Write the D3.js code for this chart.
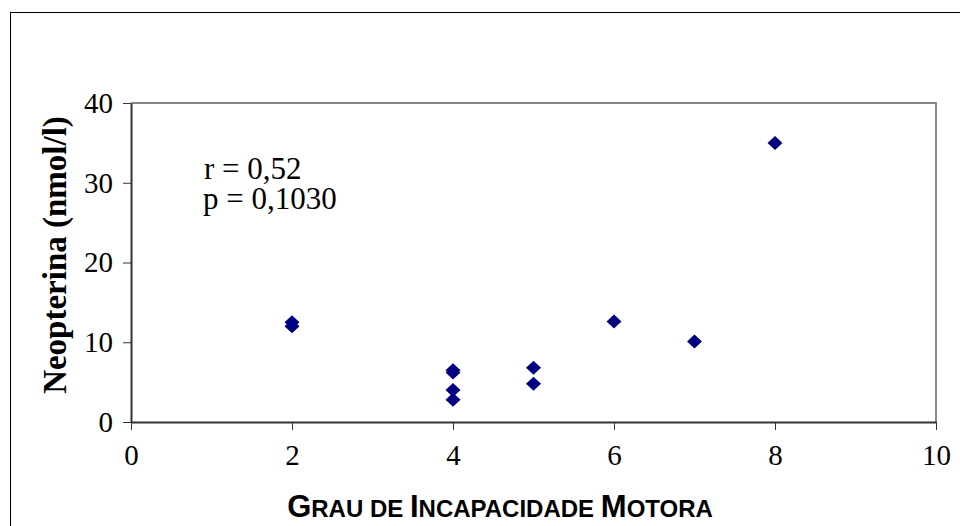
<!DOCTYPE html>
<meta charset="utf-8">
<head>
    <script src="https://d3js.org/d3.v7.min.js"></script>
</head>
<style>
    body { margin: 0; background: white; }
    .tick text { font-family: 'Liberation Serif', 'Times New Roman', serif; font-size: 29px; fill: #000; }
    .axis path, .axis line { stroke: #333; stroke-width: 2px; }
</style>
<body>
<div id="my_dataviz"></div>
<script>
    // data
    var grau = [2, 2, 4, 4, 4, 4, 5, 5, 6, 7, 8];
    var neopterina = [12.5, 12.0, 6.5, 6.2, 4.0, 2.8, 6.8, 4.8, 12.6, 10.1, 35.0];
    var xTicks = [0, 2, 4, 6, 8, 10];
    var yTicks = [0, 10, 20, 30, 40];
    var statLines = ["r = 0,52", "p = 0,1030"];

    var margin = {top: 103, right: 24, bottom: 104, left: 131},
        width = 960 - margin.left - margin.right,
        height = 526 - margin.top - margin.bottom;

    var root = d3.select("#my_dataviz")
        .append("svg")
        .attr("width", 960)
        .attr("height", 526);

    // outer chart frame
    root.append("rect")
        .attr("x", 10.5).attr("y", 12.5)
        .attr("width", 960).attr("height", 530)
        .attr("fill", "none").attr("stroke", "#000").attr("stroke-width", 1);

    var svg = root.append("g")
        .attr("transform", "translate(" + margin.left + "," + margin.top + ")");

    var x = d3.scaleLinear().domain([0, 10]).range([0, width]);
    var y = d3.scaleLinear().domain([0, 40]).range([height, 0]);

    // plot area border (top/right grey)
    svg.append("path")
        .attr("d", "M0,0H" + width + "V" + height)
        .attr("fill", "none").attr("stroke", "#888").attr("stroke-width", 2);

    svg.append("g")
        .attr("class", "axis")
        .attr("transform", "translate(0," + height + ")")
        .call(d3.axisBottom(x).tickValues(xTicks).tickSize(8).tickSizeOuter(0).tickPadding(14))
        .selectAll("line").style("stroke-width", 1);

    svg.append("g")
        .attr("class", "axis")
        .call(d3.axisLeft(y).tickValues(yTicks).tickSize(8).tickSizeOuter(0).tickPadding(10))
        .selectAll("line").style("stroke-width", 1);

    svg.selectAll(".tick text").attr("fill", "#000");

    // stats annotation
    var ann = svg.append("text")
        .attr("y", 76)
        .style("font-family", "'Liberation Serif', 'Times New Roman', serif")
        .style("font-size", "31px");
    ann.selectAll("tspan")
        .data(statLines)
        .enter()
        .append("tspan")
        .attr("x", function (d, i) { return i === 0 ? 73 : 72; })
        .attr("dy", function (d, i) { return i === 0 ? 0 : 30; })
        .text(function (d) { return d; });

    // diamond markers
    var diamond = "M0,-7L7.5,0L0,7L-7.5,0Z";
    svg.append("g")
        .selectAll("path.dot")
        .data(grau)
        .enter()
        .append("path")
        .attr("class", "dot")
        .attr("d", diamond)
        .attr("transform", function (d, i) { return "translate(" + x(d) + "," + y(neopterina[i]) + ")"; })
        .attr("fill", "#000080");

    // Y axis label
    svg.append("text")
        .attr("text-anchor", "middle")
        .attr("transform", "rotate(-90)")
        .attr("x", -152)
        .attr("y", -65)
        .style("font-family", "'Liberation Serif', 'Times New Roman', serif")
        .style("font-weight", "bold")
        .style("font-size", "33px")
        .text("Neopterina (nmol/l)");

    // X axis label, small caps
    var xl = svg.append("text")
        .attr("text-anchor", "middle")
        .attr("x", 500 - margin.left)
        .attr("y", 517 - margin.top)
        .style("font-family", "'Liberation Sans', Arial, sans-serif")
        .style("font-weight", "bold")
        .style("font-size", "31px");
    var parts = [["G", "RAU DE "], ["I", "NCAPACIDADE "], ["M", "OTORA"]];
    parts.forEach(function (p) {
        xl.append("tspan").text(p[0]);
        xl.append("tspan").style("font-size", "24px").text(p[1]);
    });
</script>
</body>
